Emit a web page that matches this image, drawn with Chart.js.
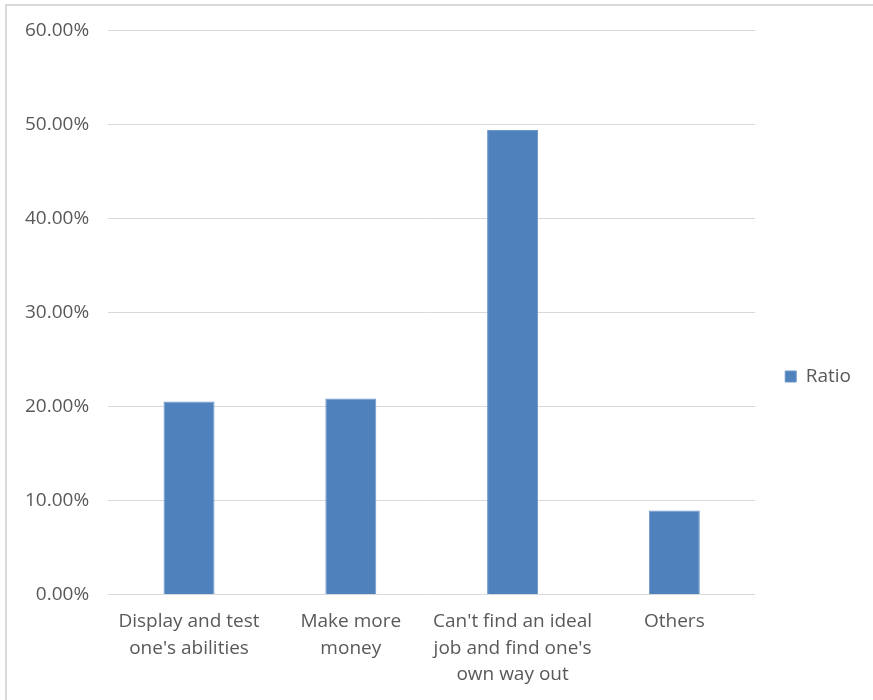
<!DOCTYPE html>
<html>
<head>
<meta charset="utf-8">
<script src="https://cdn.jsdelivr.net/npm/chart.js@4.4.1/dist/chart.umd.min.js"></script>
<style>
  html, body { margin: 0; padding: 0; background: #fff; }
  #frame {
    position: absolute; left: 5px; top: 4px; right: 0; bottom: 0;
    border-top: 2px solid #d9d9d9; border-left: 2px solid #d9d9d9;
  }
  #wrap { position: absolute; left: 0; top: 0; width: 873px; height: 700px; }
</style>
</head>
<body>
<div id="frame"></div>
<div id="wrap"><canvas id="ratioChart" width="873" height="700"></canvas></div>
<script>
const categories = [
    ["Display and test", "one's abilities"],
    ["Make more", "money"],
    ["Can't find an ideal", "job and find one's", "own way out"],
    "Others"
];
const ratioValues = [0.2053, 0.2085, 0.4940, 0.0894];
const yTicks = [0, 0.1, 0.2, 0.3, 0.4, 0.5, 0.6];

const textColor = "#595959";
const fontFamily = "'Open Sans', 'Noto Sans', sans-serif";

// push the legend down a bit, Excel puts it lower than the centre
const legendShift = {
    id: "legendShift",
    afterLayout(chart) {
        chart.legend.top += 18;
        chart.legend.bottom += 18;
    }
};

const ctx = document.getElementById("ratioChart").getContext("2d");
let ratioChart = new Chart(ctx, {
    type: "bar",
    data: {
        labels: categories,
        datasets: [{
            label: "Ratio",
            data: ratioValues,
            backgroundColor: "#4f81bd",
            borderColor: "#6d96c8",
            borderWidth: 1,
            barPercentage: 0.315,
            categoryPercentage: 1.0
        }]
    },
    options: {
        responsive: false,
        animation: false,
        layout: {
            padding: { left: 6, top: 23, right: 12, bottom: 6 }
        },
        plugins: {
            tooltip: { enabled: false },
            legend: {
                position: "right",
                labels: {
                    boxWidth: 11,
                    boxHeight: 11,
                    padding: 30,
                    color: textColor,
                    font: { family: fontFamily, size: 19 }
                }
            }
        },
        scales: {
            x: {
                grid: { display: false },
                border: { display: false },
                ticks: {
                    color: textColor,
                    padding: 6,
                    maxRotation: 0,
                    autoSkip: false,
                    font: { family: fontFamily, size: 19, lineHeight: 1.395 }
                }
            },
            y: {
                min: 0,
                max: 0.6,
                afterBuildTicks: axis => {
                    axis.ticks = yTicks.map(v => ({ value: v }));
                },
                grid: { color: "#d9d9d9", lineWidth: 1, drawTicks: false },
                border: { display: false },
                ticks: {
                    color: textColor,
                    padding: 19,
                    font: { family: fontFamily, size: 19 },
                    callback: v => (v * 100).toFixed(2) + "%"
                }
            }
        }
    },
    plugins: [legendShift]
});
</script>
</body>
</html>
